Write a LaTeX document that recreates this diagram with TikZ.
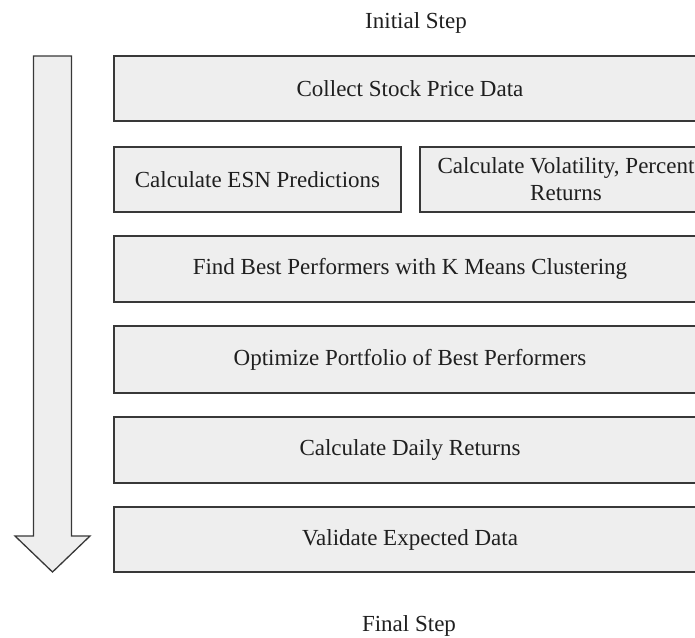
\documentclass[tikz,border=0pt]{standalone}
\usepackage{fontspec}
\setmainfont{Liberation Serif}
\definecolor{boxfill}{HTML}{EEEEEE}
\definecolor{boxline}{HTML}{383838}
\begin{document}
\begin{tikzpicture}[x=1pt,y=-1pt,
  stepbox/.style={draw=boxline, fill=boxfill, line width=1.3pt, inner sep=0pt,
    font=\fontsize{23}{27}\selectfont, align=center, text=black!88},
  label/.style={font=\fontsize{23}{27}\selectfont, inner sep=0pt, text=black!88}]
\useasboundingbox (0,0) rectangle (695,637);
\clip (0,0) rectangle (695,637);
\node[label, anchor=base] (initial) at (416,28) {Initial Step};
\node[label, anchor=base] (final) at (409,631) {Final Step};
% big arrow
\draw[draw=boxline, fill=boxfill, line width=1.3pt, line join=miter]
  (33.5,56) -- (71.5,56) -- (71.5,536) -- (90,536) -- (52.5,572) -- (15,536) -- (33.5,536) -- cycle;
% boxes
\node[stepbox, minimum width=592pt, minimum height=65pt] (collect) at (410,88.5) {Collect Stock Price Data};
\node[stepbox, minimum width=287pt, minimum height=65pt] (esn) at (257.5,179.5) {Calculate ESN Predictions};
\node[stepbox, minimum width=292pt, minimum height=65pt] (vol) at (566,179.5) {Calculate Volatility, Percent\\Returns};
\node[stepbox, minimum width=592pt, minimum height=66pt] (kmeans) at (410,269) {Find Best Performers with K Means Clustering};
\node[stepbox, minimum width=592pt, minimum height=67pt] (optim) at (410,359.5) {Optimize Portfolio of Best Performers};
\node[stepbox, minimum width=592pt, minimum height=66pt] (daily) at (410,450) {Calculate Daily Returns};
\node[stepbox, minimum width=592pt, minimum height=65pt] (valid) at (410,539.5) {Validate Expected Data};
\end{tikzpicture}
\end{document}
